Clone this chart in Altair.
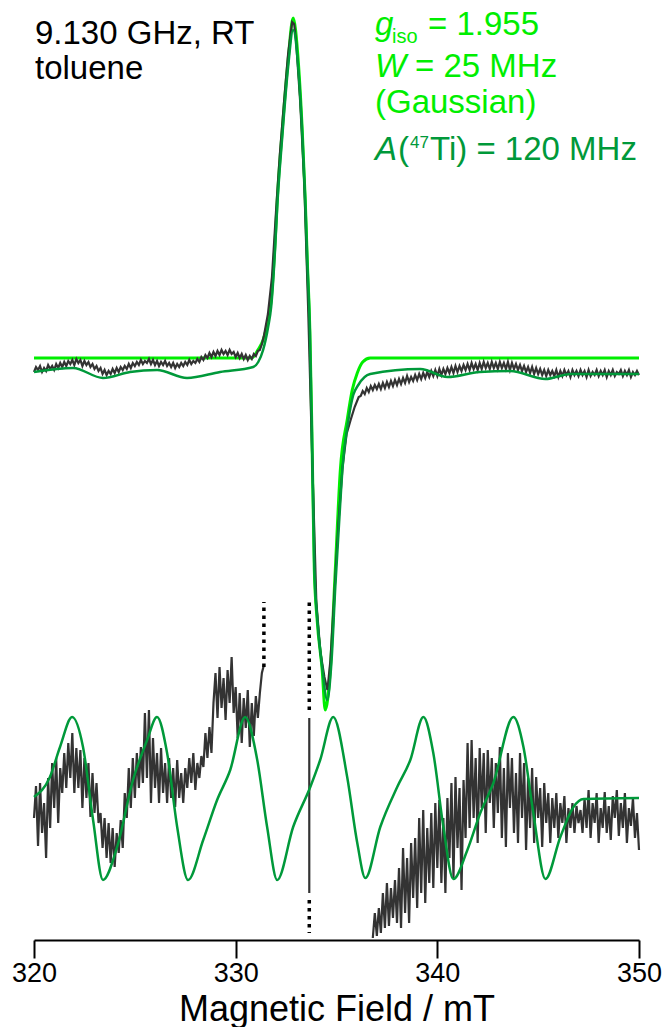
import altair as alt
import pandas as pd

FONT = "Liberation Sans"
BLACK = "#333333"
LIME = "#00ee00"
GREEN = "#00993a"

# ---------------------------------------------------------------------------
# Upper traces: first-derivative X-band EPR spectrum, intensity in a.u.
# ---------------------------------------------------------------------------
# recorded spectrum: noisy low-field baseline, sampled every 0.1 mT
EXP_LEFT_START, EXP_STEP = 320.0, 0.1
EXP_LEFT = [0, 5, 2, 6, 0, 4, 1, 7, 3, 6,
            2, 8, 4, 9, 5, 10, 6, 11, 8, 12,
            7, 13, 9, 12, 6, 11, 7, 10, 5, 8,
            3, 6, 1, 4, -2, 2, -3, 1, -2, 3,
            -1, 4, 0, 5, 2, 6, 3, 8, 4, 9,
            6, 10, 7, 12, 8, 11, 9, 13, 8, 12,
            7, 11, 6, 10, 7, 11, 6, 9, 5, 9,
            4, 8, 5, 9, 6, 10, 7, 12, 8, 11,
            9, 13, 10, 15, 12, 17, 14, 19, 15, 20,
            16, 21, 17, 22, 18, 21, 17, 22, 18, 20,
            15, 19, 14, 18, 13, 17, 12, 16, 13, 18,
            16, 21, 22, 28]
# recorded spectrum: the main derivative line
EXP_LINE_FIELD = [331.4, 331.6, 331.8, 332.0, 332.2, 332.4, 332.6, 332.8, 332.9,
                  333.0, 333.2, 333.4, 333.6, 333.8, 334.0, 334.2, 334.4, 334.55,
                  334.7, 334.9, 335.1, 335.3, 335.5, 335.7, 335.9, 336.1]
EXP_LINE = [36, 58, 95, 160, 220, 270, 318, 350, 348,
            330, 270, 190, 60, -90, -230, -280, -305, -318,
            -288, -220, -150, -95, -62, -48, -35, -25]
# recorded spectrum: noisy high-field baseline, sampled every 0.1 mT
EXP_RIGHT_START = 336.2
EXP_RIGHT = [-24, -19, -22, -16, -20, -14, -18, -13, -17, -12,
             -17, -11, -16, -10, -15, -9, -14, -8, -13, -7,
             -12, -6, -11, -4, -10, -5, -9, -3, -8, -2,
             -7, -1, -6, 0, -5, 1, -4, 2, -4, 3,
             -3, 3, -2, 4, -1, 5, -1, 6, 0, 6,
             1, 7, 2, 8, 2, 9, 3, 8, 2, 9,
             3, 10, 4, 9, 3, 10, 4, 9, 3, 10,
             4, 9, 3, 10, 2, 9, 3, 8, 2, 7,
             1, 6, 0, 5, -1, 5, -2, 4, -2, 3,
             -3, 2, -4, 2, -3, 1, -4, 2, -5, 1,
             -4, 2, -3, 1, -5, 2, -3, 1, -4, 2,
             -3, 1, -5, 2, -4, 0, -3, 2, -4, 1,
             -3, 2, -5, 1, -3, 2, -4, 0, -2, 2,
             -4, 1, -3, 2, -5, 0, -3, 1, -3]

# simulation, g_iso = 1.955, W = 25 MHz Gaussian, no hyperfine
SIM_ISO_FIELD = [320.0, 330.8, 331.1, 331.36, 331.61, 331.76, 331.96, 332.06,
                 332.31, 332.6, 332.85, 333.1, 333.3, 333.45, 333.55, 333.68,
                 333.78, 333.9, 334.04, 334.29, 334.44, 334.69, 334.94, 335.19,
                 335.53, 335.78, 336.03, 336.3, 336.67, 350.0]
SIM_ISO = [14, 14, 22, 32, 52, 72, 132, 172,
           242, 312, 354, 312, 242, 172, 112, 40,
           -60, -198, -248, -298, -338, -298, -198, -98,
           -48, -18, -1, 10, 14, 14]

# simulation including A(47Ti) = 120 MHz
SIM_TI_FIELD = [320.0, 321.94, 323.42, 324.76, 326.1, 327.59, 329.23, 330.87,
                331.12, 331.36, 331.61, 331.76, 331.96, 332.06, 332.31, 332.6,
                332.85, 333.1, 333.3, 333.45, 333.55, 333.68, 333.78, 333.9,
                334.04, 334.29, 334.54, 334.75, 334.94, 335.19, 335.29, 335.59,
                335.83, 336.08, 336.67, 339.16, 340.5, 342.1, 343.62, 345.36,
                346.6, 350.0]
SIM_TI = [0, 4, -6, 0, 2, -6, 0, 5,
          10, 22, 45, 65, 125, 165, 235, 305,
          342, 305, 240, 172, 112, 40, -60, -195,
          -245, -295, -328, -290, -215, -130, -98, -48,
          -23, -13, -2, 3, -5, 0, 1, -7,
          -2, -2]

# ---------------------------------------------------------------------------
# Lower traces: vertically expanded view of the same spectra
# ---------------------------------------------------------------------------
INSET_BASE = -426  # vertical offset of the expanded traces

ZOOM_SIM_FIELD = [320.0, 320.79, 321.29, 321.89, 322.43, 322.93, 323.42, 324.12,
                  324.91, 325.61, 326.10, 326.60, 327.10, 327.64, 328.39, 329.08,
                  329.73, 330.47, 331.07, 331.56, 332.06, 332.85, 333.70, 334.19,
                  334.84, 335.53, 336.03, 336.43, 337.17, 338.01, 338.66, 339.31,
                  339.80, 340.30, 340.79, 341.49, 342.13, 342.78, 343.77, 344.27,
                  344.76, 345.36, 346.10, 346.75, 347.25, 350.0]
ZOOM_SIM = [1, 21, 51, 81, 51, -22, -82, -49,
            18, 58, 81, 45, -29, -82, -42, -2,
            28, 81, 38, -29, -82, -29, 11, 38,
            81, 21, -45, -80, -29, 11, 38, 81,
            45, -29, -81, -52, -15, 15, 81, 51,
            -15, -81, -39, -9, -1, 0]

# expanded recorded spectrum, sampled every 0.1 mT
ZOOM_EXP_LEFT_START = 320.0
ZOOM_EXP_LEFT = [-20, 12, -48, 15, -35, -5, -60,
                 20, -30, 35, -10, 40, -25, 30, 5, 45,
                 10, 55, 20, 65, 5, 50, 10,
                 48, -10, 40, 0, 35, -19, 25, -15, 15, -25,
                 -15, -50, -20,
                 -60, -25, -65, -30, -69, -35, -55,
                 -22, -50, 5,
                 -20, 30, -10, 40, 0, 45, 10, 51,
                 15, 85, 20, 88, -5, 60, 10,
                 45, -5, 50, 5, 35, -5, 40, 0,
                 30, -9, 38, 0, 25, -5, 30,
                 10, 40, 15, 45, 8, 35, 20, 42,
                 31, 65, 40, 71, 45,
                 95, 125, 80, 131, 90, 120, 78, 128, 95, 141,
                 85, 111, 60, 105, 55, 100, 70, 108, 51, 95, 62, 102, 80, 105,
                 125, 133]
ZOOM_EXP_CENTRE_FIELD = [333.65, 333.65]
ZOOM_EXP_CENTRE = [80, -95]
ZOOM_EXP_RIGHT_START = 336.8
ZOOM_EXP_RIGHT = [-140, -115, -138, -110, -135, -95, -130, -85, -128, -90,
                  -120, -82, -125, -70, -130, -50, -115, -60, -125, -45,
                  -100, -40, -110, -20, -95, -12, -105, -30, -85, -15,
                  -90, -5, -70, -2, -85, -20, -95, 0, -60, 15,
                  -80, 21, -50, 10, -92, 18, -40, 55, -30, 58,
                  -20, 40, -45, 50, -10, 45, -35, 48, -5, 40,
                  -30, 35, -15, 51, -40, 30, -49, 45, -10, 40,
                  -35, 25, -45, 45, -20, 35, -52, 20, -30, 30,
                  -45, 21, -20, 10, -49, 15, -25, 5, -45, 0,
                  -30, 5, -40, -5, -25, 2, -45, -10, -30, -5,
                  -35, -8, -25, -12, -35, 0, -30, 8, -40, -5,
                  -25, 5, -45, -10, -30, 6, -35, -8, -42, 2,
                  -20, 8, -38, -5, -30, 5, -45, -10, -28, 0,
                  -40, -15, -52]

# dotted markers where the expanded recorded trace runs off scale
CLIP_FIELD = [331.4, 333.65, 333.65]
CLIP_FROM = [131, 88, -102]
CLIP_TO = [196, 196, -135]


def grid(start, step, values):
    return [round(start + i * step, 3) for i in range(len(values))]


exp_field = (grid(EXP_LEFT_START, EXP_STEP, EXP_LEFT) + EXP_LINE_FIELD
             + grid(EXP_RIGHT_START, EXP_STEP, EXP_RIGHT))
exp_sig = EXP_LEFT + EXP_LINE + EXP_RIGHT
exp_df = pd.DataFrame({"field": exp_field, "y": exp_sig})
iso_df = pd.DataFrame({"field": SIM_ISO_FIELD, "y": SIM_ISO})
ti_df = pd.DataFrame({"field": SIM_TI_FIELD, "y": SIM_TI})

zoom_sim_df = pd.DataFrame({"field": ZOOM_SIM_FIELD,
                            "y": [INSET_BASE + v for v in ZOOM_SIM]})
parts = []
for name, f, v in [
    ("low", grid(ZOOM_EXP_LEFT_START, EXP_STEP, ZOOM_EXP_LEFT), ZOOM_EXP_LEFT),
    ("centre", ZOOM_EXP_CENTRE_FIELD, ZOOM_EXP_CENTRE),
    ("high", grid(ZOOM_EXP_RIGHT_START, EXP_STEP, ZOOM_EXP_RIGHT), ZOOM_EXP_RIGHT),
]:
    parts.append(pd.DataFrame({"field": f, "y": [INSET_BASE + x for x in v],
                               "seg": name, "i": list(range(len(v)))}))
zoom_exp_df = pd.concat(parts, ignore_index=True)
clip_df = pd.DataFrame({"field": CLIP_FIELD,
                        "y": [INSET_BASE + v for v in CLIP_FROM],
                        "y2": [INSET_BASE + v for v in CLIP_TO]})

X = alt.X("field:Q",
          scale=alt.Scale(domain=[320, 350], nice=False, zero=False),
          axis=alt.Axis(values=[320, 330, 340, 350], format="d",
                        title="Magnetic Field / mT", grid=False,
                        domainColor="black", domainWidth=2,
                        tickColor="black", tickWidth=2, tickSize=18,
                        labelFont=FONT, labelFontSize=27, labelColor="black",
                        labelPadding=2, labelFlush=False,
                        titleFont=FONT, titleFontSize=36, titleColor="black",
                        titleFontWeight="normal", titleBaseline="alphabetic",
                        titleY=80))
Y = alt.Y("y:Q", scale=alt.Scale(domain=[-568, 372], nice=False, zero=False),
          axis=None)

iso_line = alt.Chart(iso_df).mark_line(
    color=LIME, strokeWidth=3, interpolate="monotone").encode(x=X, y=Y)
exp_line = alt.Chart(exp_df).mark_line(
    color=BLACK, strokeWidth=2.2).encode(x=X, y=Y)
ti_line = alt.Chart(ti_df).mark_line(
    color=GREEN, strokeWidth=2.5, interpolate="monotone").encode(x=X, y=Y)

zoom_exp = alt.Chart(zoom_exp_df).mark_line(
    color=BLACK, strokeWidth=2.2).encode(
    x=X, y=Y, detail="seg:N", order="i:Q")
zoom_sim = alt.Chart(zoom_sim_df).mark_line(
    color=GREEN, strokeWidth=2.5, interpolate="monotone").encode(x=X, y=Y)
clip_marks = alt.Chart(clip_df).mark_rule(
    color="black", strokeWidth=3.5, strokeDash=[3.5, 4.5]).encode(
    x=X, y=Y, y2="y2:Q")


def label(text, x, y, size=33, color="black", style="normal"):
    return alt.Chart(pd.DataFrame({"t": [text]})).mark_text(
        align="left", baseline="alphabetic", font=FONT, fontSize=size,
        fontStyle=style, color=color,
    ).encode(x=alt.value(x), y=alt.value(y), text="t:N")


labels = [
    label("9.130 GHz, RT", 1, 44),
    label("toluene", 1, 79),
    label("g", 341, 35, color=LIME, style="italic"),
    label("iso", 358, 43, size=20, color=LIME),
    label("= 1.955", 394, 35, color=LIME),
    label("W", 341, 77, color=LIME, style="italic"),
    label("= 25 MHz", 381, 77, color=LIME),
    label("(Gaussian)", 341, 113, color=LIME),
    label("A", 341, 160, color=GREEN, style="italic"),
    label("(", 364, 160, color=GREEN),
    label("47", 376, 148, size=17, color=GREEN),
    label("Ti) = 120 MHz", 396, 160, color=GREEN),
]

chart = alt.layer(
    iso_line, exp_line, ti_line, zoom_exp, zoom_sim, clip_marks, *labels
).properties(
    width=605, height=940,
    autosize=alt.AutoSizeParams(type="none"),
    padding={"left": 34, "top": 0, "right": 26, "bottom": 87},
).configure_view(strokeWidth=0)

chart.save("out.html", embed_options={"renderer": "svg", "actions": False})
